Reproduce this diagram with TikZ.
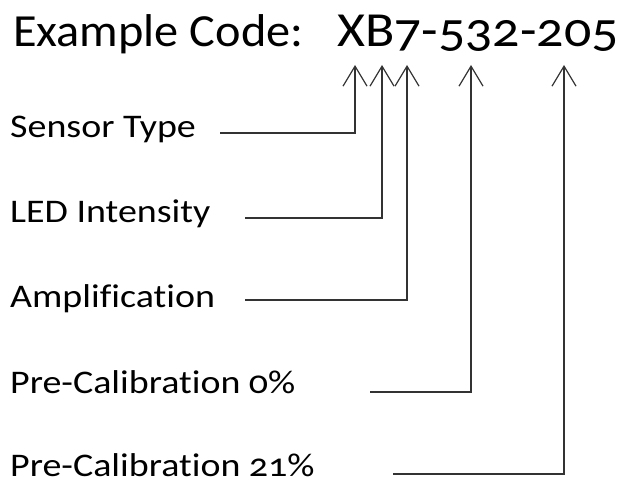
\documentclass[tikz,border=0pt]{standalone}
\usepackage{fontspec}
\setmainfont{Carlito}[Numbers=OldStyle,Ligatures=NoCommon,FakeStretch=1.15]
\newfontfamily\titlefont{Carlito}[Numbers=OldStyle,Ligatures=NoCommon,FakeStretch=1.05]
\newfontfamily\codefont{Carlito}[Numbers=OldStyle,Ligatures=NoCommon,FakeStretch=1.1]
\usetikzlibrary{arrows.meta}
\begin{document}
\begin{tikzpicture}[x=1pt,y=-1pt,
  lbl/.style={anchor=base west,inner sep=0pt,font=\fontsize{33}{36}\selectfont},
  ttl/.style={anchor=base west,inner sep=0pt,font=\titlefont\fontsize{46}{50}\selectfont},
  cde/.style={anchor=base west,inner sep=0pt,font=\codefont\fontsize{49}{52}\selectfont},
  conn/.style={draw=black!80,line width=1.2pt,-{Straight Barb[length=20pt,width=24pt,line width=1.2pt]}}]
\useasboundingbox (0,0) rectangle (619,481);
\node[ttl] (title) at (13,47) {Example Code:};
\node[cde] (code) at (337,47) {XB7-532-205};
\node[lbl] (l1) at (10,138) {Sensor Type};
\node[lbl] (l2) at (10,223) {LED Intensity};
\node[lbl] (l3) at (10,308) {Amplification};
\node[lbl] (l4) at (10,393) {Pre-Calibration 0\%};
\node[lbl] (l5) at (10,476) {Pre-Calibration 21\%};
\coordinate (s1) at (220,133);
\coordinate (s2) at (245,218);
\coordinate (s3) at (245,300);
\coordinate (s4) at (370,392);
\coordinate (s5) at (393,474);
\coordinate (t1) at (355,65);
\coordinate (t2) at (382,65);
\coordinate (t3) at (407,65);
\coordinate (t4) at (471,65);
\coordinate (t5) at (564,65);
\draw[conn] (s1) -| (t1);
\draw[conn] (s2) -| (t2);
\draw[conn] (s3) -| (t3);
\draw[conn] (s4) -| (t4);
\draw[conn] (s5) -| (t5);
\end{tikzpicture}
\end{document}
